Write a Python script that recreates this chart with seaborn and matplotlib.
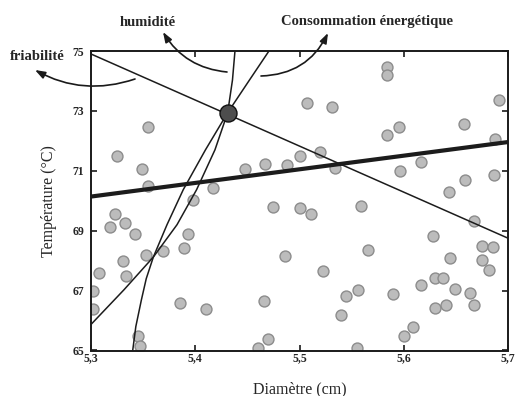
import numpy as np
import pandas as pd
import matplotlib
matplotlib.use("Agg")
import matplotlib.pyplot as plt
import seaborn as sns

# ---------------- data ----------------
pts_x = [5.355, 5.325, 5.349, 5.355, 5.398, 5.417, 5.448, 5.467, 5.488,
         5.584, 5.584, 5.507, 5.531, 5.691, 5.584, 5.595, 5.658, 5.688,
         5.500, 5.520, 5.534, 5.596, 5.617, 5.659, 5.687, 5.643,
         5.475, 5.323, 5.318, 5.333, 5.342, 5.393, 5.389, 5.369, 5.353,
         5.331, 5.308, 5.334, 5.486, 5.302, 5.302, 5.385, 5.410, 5.466,
         5.345, 5.347, 5.470, 5.460,
         5.500, 5.511, 5.559, 5.667, 5.628, 5.675, 5.686, 5.566, 5.644,
         5.675, 5.682, 5.523, 5.630, 5.638, 5.617, 5.649, 5.664, 5.667,
         5.545, 5.556, 5.590, 5.630, 5.641, 5.540, 5.600, 5.609, 5.555]
pts_y = [72.46, 71.48, 71.06, 70.48, 70.02, 70.42, 71.06, 71.23, 71.18,
         74.48, 74.20, 73.28, 73.12, 73.37, 72.20, 72.46, 72.56, 72.06,
         71.48, 71.64, 71.09, 71.01, 71.31, 70.70, 70.87, 70.29,
         69.79, 69.57, 69.14, 69.26, 68.90, 68.90, 68.42, 68.31, 68.20,
         67.98, 67.59, 67.50, 68.17, 66.98, 66.39, 66.59, 66.37, 66.64,
         65.48, 65.14, 65.37, 65.09,
         69.76, 69.57, 69.81, 69.31, 68.81, 68.48, 68.46, 68.37, 68.09,
         68.03, 67.68, 67.64, 67.42, 67.42, 67.20, 67.06, 66.92, 66.53,
         66.83, 67.01, 66.90, 66.42, 66.53, 66.17, 65.48, 65.79, 65.09]

# thick trend line
trend_x = [5.30, 5.70]
trend_y = [70.14, 71.96]

# friabilité constraint line
friab_x = [5.30, 5.70]
friab_y = [74.90, 68.75]

# humidité iso-curves
hum1_x = [5.4381, 5.4357, 5.4311, 5.4189, 5.4013, 5.3825, 5.3598, 5.3317, 5.3000]
hum1_y = [75.00, 74.03, 72.94, 71.70, 70.37, 69.20, 68.12, 67.03, 65.87]
hum2_x = [5.4707, 5.4520, 5.4311, 5.4098, 5.3885, 5.3729, 5.3598, 5.3530, 5.3484, 5.3430, 5.3400]
hum2_y = [75.00, 74.03, 72.94, 71.70, 70.37, 69.20, 68.12, 67.40, 66.70, 65.80, 65.00]

# optimum point
opt_x = [5.431]
opt_y = [72.94]

x_ticks = [5.3, 5.4, 5.5, 5.6, 5.7]
x_ticklabels = ["5,3", "5,4", "5,5", "5,6", "5,7"]
y_ticks = [65, 67, 69, 71, 73, 75]
y_ticklabels = ["65", "67", "69", "71", "73", "75"]

# ---------------- style ----------------
sns.set_theme(style="white")
plt.rcParams["font.family"] = ["Liberation Serif", "DejaVu Serif"]
plt.rcParams["axes.edgecolor"] = "#1a1a1a"

fig = plt.figure(figsize=(5.15, 3.96), dpi=100)
ax = fig.add_axes([91 / 515, (396 - 350.5) / 396, (508 - 91) / 515, (350.5 - 51) / 396])

pts = pd.DataFrame({"x": pts_x, "y": pts_y})
sns.scatterplot(data=pts, x="x", y="y", ax=ax, s=62, color="#bcbcbc",
                edgecolor="#8c8c8c", linewidth=1.0, zorder=2, legend=False)

line_col = "#1c1c1c"
sns.lineplot(x=trend_x, y=trend_y, ax=ax, color=line_col, linewidth=3.0, zorder=3)
sns.lineplot(x=friab_x, y=friab_y, ax=ax, color=line_col, linewidth=1.1, zorder=3)
sns.lineplot(x=hum1_x, y=hum1_y, ax=ax, color=line_col, linewidth=1.1, zorder=3, sort=False)
sns.lineplot(x=hum2_x, y=hum2_y, ax=ax, color=line_col, linewidth=1.1, zorder=3, sort=False)

sns.scatterplot(x=opt_x, y=opt_y, ax=ax, s=150, color="#4d4d4d",
                edgecolor="#111111", linewidth=1.0, zorder=5, legend=False)

ax.set_xlim(5.3, 5.7)
ax.set_ylim(65, 75)
ax.set_xticks(x_ticks)
ax.set_xticklabels(x_ticklabels, fontsize=8.5, fontweight="bold")
ax.set_yticks(y_ticks)
ax.set_yticklabels(y_ticklabels, fontsize=8.5, fontweight="bold")
ax.tick_params(axis="both", which="major", direction="in", length=4.5, width=1.2,
               top=True, right=True, bottom=True, left=True, color="#1a1a1a")
ax.tick_params(axis="x", pad=1.5)
ax.tick_params(axis="y", pad=5)
for sp in ax.spines.values():
    sp.set_visible(True)
    sp.set_linewidth(1.4)

ax.set_xlabel("Diamètre (cm)", fontsize=11.5, labelpad=12)
ax.set_ylabel("Température (°C)", fontsize=11.5, labelpad=11)

# annotations (figure pixel coordinates, origin bottom-left)
fig.text(148 / 515, 1 - 22 / 396, "humidité", ha="center", va="center",
         fontsize=10.5, fontweight="bold")
fig.text(367 / 515, 1 - 22 / 396, "Consommation énergétique", ha="center", va="center",
         fontsize=10.5, fontweight="bold")
fig.text(37 / 515, 1 - 56 / 396, "friabilité", ha="center", va="center",
         fontsize=10.5, fontweight="bold")

arrow_kw = dict(arrowstyle="-|>,head_length=0.5,head_width=0.18", color="#1a1a1a",
                lw=1.2, shrinkA=0, shrinkB=0)
ax.annotate("", xy=(35, 396 - 70), xycoords="figure pixels",
            xytext=(135, 396 - 79), textcoords="figure pixels",
            arrowprops=dict(connectionstyle="arc3,rad=-0.22", **arrow_kw),
            annotation_clip=False)
ax.annotate("", xy=(163, 396 - 32), xycoords="figure pixels",
            xytext=(227, 396 - 72), textcoords="figure pixels",
            arrowprops=dict(connectionstyle="arc3,rad=-0.25", **arrow_kw),
            annotation_clip=False)
ax.annotate("", xy=(328, 396 - 33), xycoords="figure pixels",
            xytext=(261, 396 - 76), textcoords="figure pixels",
            arrowprops=dict(connectionstyle="arc3,rad=0.3", **arrow_kw),
            annotation_clip=False)

fig.savefig("out.png", dpi=100)
